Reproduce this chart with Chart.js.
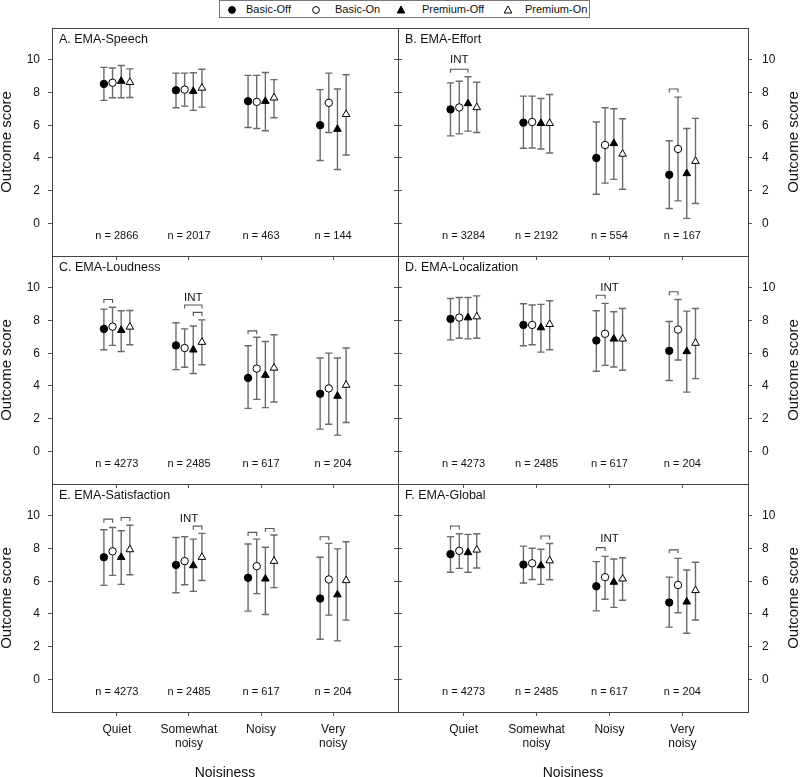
<!DOCTYPE html>
<html>
<head>
<meta charset="utf-8">
<script src="https://cdn.jsdelivr.net/npm/chart.js@4/dist/chart.umd.min.js"></script>
<style>
html,body{margin:0;padding:0;background:#fff;overflow:hidden;width:800px;height:777px;position:relative;}
#legend{position:absolute;left:219px;top:0;width:371px;height:18px;border:1px solid #777;box-sizing:border-box;font:11px 'Liberation Sans',Arial,sans-serif;color:#111;background:#fff;}
#legend .t{position:absolute;top:2px;white-space:nowrap;}
#legend svg{position:absolute;top:4px;}
</style>
</head>
<body>
<div id="legend"></div>
<script>
// ---------------- data ----------------
const categories = ['Quiet', 'Somewhat noisy', 'Noisy', 'Very noisy'];
const xTickLabels = [['Quiet'], ['Somewhat', 'noisy'], ['Noisy'], ['Very', 'noisy']];
const seriesNames = ['Basic-Off', 'Basic-On', 'Premium-Off', 'Premium-On'];
const yTickValues = [0, 2, 4, 6, 8, 10];
const xTitle = 'Noisiness';
const yTitle = 'Outcome score';
const panelTitles = ['A. EMA-Speech', 'B. EMA-Effort', 'C. EMA-Loudness', 'D. EMA-Localization', 'E. EMA-Satisfaction', 'F. EMA-Global'];

// sample sizes per category
const speechN = [2866, 2017, 463, 144];
const effortN = [3284, 2192, 554, 167];
const loudnessN = [4273, 2485, 617, 204];
const localizationN = [4273, 2485, 617, 204];
const satisfactionN = [4273, 2485, 617, 204];
const globalN = [4273, 2485, 617, 204];

// [series][category] : series order Basic-Off, Basic-On, Premium-Off, Premium-On
const speechMean = [[8.53, 8.14, 7.47, 6.00], [8.60, 8.18, 7.43, 7.37], [8.70, 8.08, 7.47, 5.76], [8.63, 8.28, 7.68, 6.67]];
const speechLow  = [[7.52, 7.07, 5.86, 3.84], [7.68, 7.17, 5.80, 5.56], [7.68, 6.91, 5.66, 3.29], [7.70, 7.11, 6.46, 4.18]];
const speechHigh = [[9.54, 9.19, 9.05, 8.18], [9.50, 9.19, 9.05, 9.19], [9.66, 9.21, 9.23, 8.22], [9.45, 9.43, 8.79, 9.09]];

const effortMean = [[6.97, 6.16, 4.00, 2.97], [7.09, 6.20, 4.79, 4.55], [7.33, 6.12, 4.89, 3.05], [7.09, 6.12, 4.24, 3.80]];
const effortLow  = [[5.35, 4.59, 1.78, 0.91], [5.47, 4.61, 2.46, 1.37], [5.64, 4.55, 2.69, 0.30], [5.56, 4.30, 2.08, 1.21]];
const effortHigh = [[8.59, 7.78, 6.20, 5.05], [8.69, 7.78, 7.07, 7.72], [8.97, 7.64, 7.01, 5.80], [8.63, 7.88, 6.40, 6.42]];

const loudnessMean = [[7.49, 6.48, 4.49, 3.52], [7.63, 6.32, 5.06, 3.85], [7.41, 6.21, 4.66, 3.38], [7.61, 6.68, 5.10, 4.05]];
const loudnessLow  = [[6.21, 5.00, 2.63, 1.36], [6.48, 5.14, 3.18, 1.66], [6.11, 4.76, 2.67, 0.99], [6.52, 5.30, 3.02, 1.76]];
const loudnessHigh = [[8.70, 7.87, 6.46, 5.71], [8.81, 7.49, 6.98, 6.01], [8.60, 7.67, 6.72, 5.71], [8.62, 8.04, 7.13, 6.32]];

const localizationMean = [[8.10, 7.73, 6.78, 6.15], [8.18, 7.73, 7.19, 7.45], [8.18, 7.57, 6.88, 6.11], [8.24, 7.77, 6.88, 6.62]];
const localizationLow  = [[6.82, 6.46, 4.90, 4.33], [6.92, 6.52, 5.26, 5.59], [6.88, 6.07, 5.16, 3.62], [6.92, 6.21, 4.96, 4.45]];
const localizationHigh = [[9.35, 9.03, 8.60, 7.94], [9.41, 8.95, 9.05, 9.29], [9.41, 8.99, 8.54, 8.58], [9.51, 9.21, 8.74, 8.74]];

const satisfactionMean = [[7.47, 7.00, 6.21, 4.94], [7.83, 7.23, 6.92, 6.11], [7.47, 6.96, 6.15, 5.18], [7.94, 7.47, 7.23, 6.05]];
const satisfactionLow  = [[5.75, 5.30, 4.17, 2.45], [6.36, 5.79, 5.24, 3.93], [5.81, 5.38, 3.97, 2.35], [6.40, 6.05, 5.61, 3.62]];
const satisfactionHigh = [[9.15, 8.68, 8.28, 7.47], [9.29, 8.72, 8.58, 8.32], [9.09, 8.58, 8.08, 7.98], [9.43, 8.93, 8.83, 8.42]];

const globalMean = [[7.66, 7.02, 5.69, 4.70], [7.86, 7.10, 6.25, 5.77], [7.76, 6.96, 5.95, 4.74], [7.92, 7.26, 6.15, 5.44]];
const globalLow  = [[6.55, 5.89, 4.19, 3.19], [6.79, 6.11, 4.90, 4.07], [6.55, 5.81, 4.40, 2.82], [6.81, 6.09, 4.84, 3.63]];
const globalHigh = [[8.73, 8.15, 7.20, 6.25], [8.91, 8.02, 7.52, 7.40], [8.87, 7.96, 7.36, 6.69], [8.91, 8.31, 7.44, 7.16]];

// significance brackets: [category, fromSeries, toSeries, yValue]
const speechBrackets = [];
const effortBrackets = [[0, 0, 2, 9.43], [3, 0, 1, 8.22]];
const loudnessBrackets = [[0, 0, 1, 9.29], [1, 1, 3, 8.95], [1, 2, 3, 8.5], [2, 0, 1, 7.37]];
const localizationBrackets = [[2, 0, 1, 9.55], [3, 0, 1, 9.76]];
const satisfactionBrackets = [[0, 0, 1, 9.8], [0, 2, 3, 9.9], [1, 2, 3, 9.37], [2, 0, 1, 8.99], [2, 2, 3, 9.23], [3, 0, 1, 8.72]];
const globalBrackets = [[0, 0, 1, 9.38], [1, 2, 3, 8.77], [2, 0, 1, 8.06], [3, 0, 1, 7.92]];

// "INT" labels: [x value, y value]
const intLabel = 'INT';
const speechInt = [];
const effortInt = [[-0.06, 10.0]];
const loudnessInt = [[1.06, 9.39]];
const localizationInt = [[2.0, 10.0]];
const satisfactionInt = [[1.0, 9.8]];
const globalInt = [[2.0, 8.57]];

// ---------------- styles ----------------
const FONT = "'Liberation Sans', Arial, Helvetica, sans-serif";
Chart.defaults.font.family = FONT;
const seriesOffset = [-0.18, -0.06, 0.06, 0.18];
const seriesStyle = [
  {shape: 'circle', fill: '#000', r: 3.7},
  {shape: 'circle', fill: '#fff', r: 3.7},
  {shape: 'triangle', fill: '#000', r: 4.4},
  {shape: 'triangle', fill: '#fff', r: 4.4}
];
const nLabelY = -0.77;

const panels = [
  {title: panelTitles[0], mean: speechMean, low: speechLow, high: speechHigh, n: speechN, br: speechBrackets, ints: speechInt},
  {title: panelTitles[1], mean: effortMean, low: effortLow, high: effortHigh, n: effortN, br: effortBrackets, ints: effortInt},
  {title: panelTitles[2], mean: loudnessMean, low: loudnessLow, high: loudnessHigh, n: loudnessN, br: loudnessBrackets, ints: loudnessInt},
  {title: panelTitles[3], mean: localizationMean, low: localizationLow, high: localizationHigh, n: localizationN, br: localizationBrackets, ints: localizationInt},
  {title: panelTitles[4], mean: satisfactionMean, low: satisfactionLow, high: satisfactionHigh, n: satisfactionN, br: satisfactionBrackets, ints: satisfactionInt},
  {title: panelTitles[5], mean: globalMean, low: globalLow, high: globalHigh, n: globalN, br: globalBrackets, ints: globalInt}
];

// ---------------- legend ----------------
(function buildLegend() {
  const lg = document.getElementById('legend');
  const markX = [7, 91, 176, 283];
  const textX = [26, 115, 202, 305];
  seriesNames.forEach((name, i) => {
    const st = seriesStyle[i];
    const ns = 'http://www.w3.org/2000/svg';
    const svg = document.createElementNS(ns, 'svg');
    svg.setAttribute('width', 10); svg.setAttribute('height', 10);
    svg.style.left = markX[i] + 'px';
    let el;
    if (st.shape === 'circle') {
      el = document.createElementNS(ns, 'circle');
      el.setAttribute('cx', 5); el.setAttribute('cy', 5); el.setAttribute('r', 3.4);
    } else {
      el = document.createElementNS(ns, 'polygon');
      el.setAttribute('points', '5,1 8.8,8 1.2,8');
    }
    el.setAttribute('fill', st.fill); el.setAttribute('stroke', '#000'); el.setAttribute('stroke-width', 1);
    svg.appendChild(el);
    lg.appendChild(svg);
    const t = document.createElement('span');
    t.className = 't'; t.textContent = name; t.style.left = textX[i] + 'px';
    lg.appendChild(t);
  });
})();

// ---------------- charts ----------------
const zeroPad = s => { s.paddingTop = 0; s.paddingBottom = 0; s.paddingLeft = 0; s.paddingRight = 0; };
const yTicksFn = s => { s.ticks = yTickValues.map(v => ({value: v})); };
const xTicksFn = s => { s.ticks = categories.map((c, i) => ({value: i})); };

function makeChart(idx) {
  const P = panels[idx];
  const col = idx % 2, row = Math.floor(idx / 2);
  const isLeft = col === 0, isBottom = row === 2;
  const rowTop = [28, 256, 484][row];
  const plotH = 228, padTop = 8;
  const xAxisH = isBottom ? 65 : 6;
  const left = isLeft ? 0 : 392;
  const width = isLeft ? 404 : 408;
  const height = padTop + plotH + xAxisH;
  const cv = document.createElement('canvas');
  cv.width = width; cv.height = height;
  cv.style.cssText = `position:absolute;left:${left}px;top:${rowTop - padTop}px;width:${width}px;height:${height}px;`;
  document.body.appendChild(cv);

  const panelPlugin = {
    id: 'panel' + idx,
    beforeDatasetsDraw(chart) {
      const {ctx, chartArea: a, scales: {x, y}} = chart;
      ctx.save();
      // frame
      ctx.strokeStyle = '#444'; ctx.lineWidth = 1;
      ctx.strokeRect(Math.round(a.left) + 0.5, Math.round(a.top) + 0.5, Math.round(a.width), Math.round(a.height));
      // error bars
      ctx.strokeStyle = '#6a6a6a'; ctx.lineWidth = 1.4;
      P.low.forEach((lows, s) => {
        lows.forEach((lo, i) => {
          const px = x.getPixelForValue(i + seriesOffset[s]);
          const y1 = y.getPixelForValue(lo), y2 = y.getPixelForValue(P.high[s][i]);
          ctx.beginPath();
          ctx.moveTo(px, y1); ctx.lineTo(px, y2);
          ctx.moveTo(px - 3.6, y1); ctx.lineTo(px + 3.6, y1);
          ctx.moveTo(px - 3.6, y2); ctx.lineTo(px + 3.6, y2);
          ctx.stroke();
        });
      });
      // brackets
      ctx.strokeStyle = '#555'; ctx.lineWidth = 1.1;
      P.br.forEach(([c, s1, s2, v]) => {
        const x1 = x.getPixelForValue(c + seriesOffset[s1]);
        const x2 = x.getPixelForValue(c + seriesOffset[s2]);
        const py = y.getPixelForValue(v);
        ctx.beginPath();
        ctx.moveTo(x1, py + 3.5); ctx.lineTo(x1, py); ctx.lineTo(x2, py); ctx.lineTo(x2, py + 3.5);
        ctx.stroke();
      });
      // texts
      ctx.fillStyle = '#111';
      ctx.textAlign = 'center'; ctx.textBaseline = 'middle';
      ctx.font = '11.5px ' + FONT;
      P.ints.forEach(([xv, yv]) => ctx.fillText(intLabel, x.getPixelForValue(xv), y.getPixelForValue(yv)));
      ctx.font = '11px ' + FONT;
      P.n.forEach((n, i) => ctx.fillText('n = ' + n, x.getPixelForValue(i), y.getPixelForValue(nLabelY)));
      ctx.textAlign = 'left';
      ctx.font = '12.5px ' + FONT;
      ctx.fillText(P.title, a.left + 7, a.top + 12);
      // right-side axis title (reads bottom to top)
      if (!isLeft) {
        ctx.save();
        ctx.translate(width - 6, (a.top + a.bottom) / 2);
        ctx.rotate(-Math.PI / 2);
        ctx.textAlign = 'center'; ctx.textBaseline = 'middle';
        ctx.font = '15px ' + FONT;
        ctx.fillText(yTitle, 0, 0);
        ctx.restore();
      }
      ctx.restore();
    }
  };

  const datasets = seriesNames.map((name, s) => ({
    label: name,
    data: P.mean[s].map((v, i) => ({x: i + seriesOffset[s], y: v})),
    showLine: false,
    pointStyle: seriesStyle[s].shape,
    pointRadius: seriesStyle[s].r,
    pointBackgroundColor: seriesStyle[s].fill,
    pointBorderColor: '#000',
    pointBorderWidth: 1
  }));

  const mainY = {
    type: 'linear', position: isLeft ? 'left' : 'right', min: -2, max: 11.95,
    afterBuildTicks: yTicksFn,
    ticks: {padding: isLeft ? 8 : 10, color: '#111', font: {size: 12}},
    grid: {drawOnChartArea: false, drawTicks: true, tickLength: 4, color: '#555'},
    border: {display: false},
    title: {display: isLeft, text: yTitle, color: '#111', font: {size: 15}, padding: {top: -2, bottom: 0}},
    afterFit: s => { s.width = 52; zeroPad(s); }
  };
  const sideY = {
    type: 'linear', position: isLeft ? 'right' : 'left', min: -2, max: 11.95,
    afterBuildTicks: yTicksFn,
    ticks: {display: false},
    grid: {drawOnChartArea: false, drawTicks: true, tickLength: 4, color: '#555'},
    border: {display: false},
    afterFit: s => { s.width = 6; zeroPad(s); }
  };
  const xAxis = {
    type: 'linear', position: 'bottom', min: -0.9, max: 3.9,
    afterBuildTicks: xTicksFn,
    ticks: {display: isBottom, autoSkip: false, maxRotation: 0, minRotation: 0, padding: 6, color: '#111', font: {size: 12},
            callback: (v, i) => xTickLabels[i]},
    grid: {drawOnChartArea: false, drawTicks: true, tickLength: 4, color: '#555'},
    border: {display: false},
    title: {display: isBottom, text: xTitle, color: '#111', font: {size: 14}, padding: {top: 0, bottom: -5}},
    afterFit: s => { s.height = xAxisH; zeroPad(s); }
  };

  new Chart(cv, {
    type: 'scatter',
    data: {datasets},
    options: {
      responsive: false,
      animation: false,
      events: [],
      layout: {padding: {top: padTop, left: 0, right: 0, bottom: 0}},
      plugins: {legend: {display: false}, tooltip: {enabled: false}},
      scales: {x: xAxis, y: mainY, y2: sideY}
    },
    plugins: [panelPlugin]
  });
}

panels.forEach((p, i) => makeChart(i));
</script>
</body>
</html>
